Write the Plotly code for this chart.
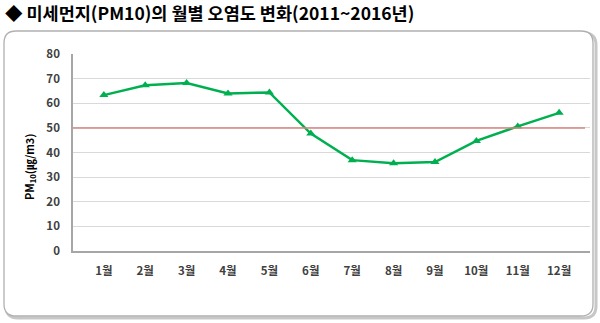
import plotly.graph_objects as go

# Monthly PM10 concentration (average 2011~2016)
months = ["1월", "2월", "3월", "4월", "5월", "6월", "7월", "8월", "9월", "10월", "11월", "12월"]
pm10 = [63.3, 67.3, 68.2, 64.0, 64.4, 47.7, 36.9, 35.6, 36.1, 44.7, 50.6, 56.1]
standard = 50
y_ticks = [0, 10, 20, 30, 40, 50, 60, 70, 80]

W, H = 600, 323
L, R, T, B = 73, 10, 54, 72
PW, PH = W - L - R, H - T - B


def px(x):
    return (x - L) / PW


def py(y):
    return (H - B - y) / PH


def rounded_rect(x0, y0, x1, y1, r):
    pts = [
        f"M {px(x0 + r)},{py(y0)}",
        f"L {px(x1 - r)},{py(y0)}",
        f"Q {px(x1)},{py(y0)} {px(x1)},{py(y0 + r)}",
        f"L {px(x1)},{py(y1 - r)}",
        f"Q {px(x1)},{py(y1)} {px(x1 - r)},{py(y1)}",
        f"L {px(x0 + r)},{py(y1)}",
        f"Q {px(x0)},{py(y1)} {px(x0)},{py(y1 - r)}",
        f"L {px(x0)},{py(y0 + r)}",
        f"Q {px(x0)},{py(y0)} {px(x0 + r)},{py(y0)}",
        "Z",
    ]
    return " ".join(pts)


fig = go.Figure()

fig.add_trace(go.Scatter(
    x=months, y=pm10, mode="lines+markers",
    line=dict(color="#00b050", width=2.5),
    marker=dict(symbol="triangle-up", size=8, color="#00b050"),
    cliponaxis=False, showlegend=False, hoverinfo="x+y",
))

shapes = [
    # card shadow and border
    dict(type="path", xref="paper", yref="paper", layer="below",
         path=rounded_rect(6, 33, 596, 318, 12),
         line=dict(color="rgba(0,0,0,0.22)", width=3)),
    dict(type="path", xref="paper", yref="paper", layer="below",
         path=rounded_rect(4, 31, 593, 316, 12),
         line=dict(color="#b0b0b0", width=1.3), fillcolor="white"),
    # environmental standard line
    dict(type="line", xref="paper", yref="y", x0=0, x1=px(585),
         y0=standard, y1=standard,
         line=dict(color="#d9837f", width=1.5)),
]

tick_font = dict(size=11.5, color="#404040", family="Noto Sans CJK KR", weight="bold")

fig.update_layout(
    width=W, height=H,
    margin=dict(l=L, r=R, t=T, b=B),
    paper_bgcolor="white", plot_bgcolor="rgba(0,0,0,0)",
    font=dict(family="Noto Sans CJK KR", color="#404040"),
    shapes=shapes,
    annotations=[
        dict(text="<b>◆ 미세먼지(PM10)의 월별 오염도 변화(2011~2016년)</b>",
             xref="paper", yref="paper", x=px(3), y=py(13),
             xanchor="left", yanchor="middle", showarrow=False,
             font=dict(size=17.5, color="#000000", family="Noto Sans CJK KR"),
             ),
        dict(text="<b>PM<sub>10</sub>(㎍/m3)</b>",
             xref="paper", yref="paper", x=px(29), y=py(167),
             xanchor="center", yanchor="middle", showarrow=False,
             textangle=-90,
             font=dict(size=11, color="#000000", family="Noto Sans CJK KR")),
    ],
    xaxis=dict(
        type="category", showgrid=False, showline=True,
        linecolor="#a6a6a6", linewidth=1.5, ticks="",
        tickfont=tick_font,
        ticklabelstandoff=8, fixedrange=True,
    ),
    yaxis=dict(
        range=[0, 80], tickvals=y_ticks, showgrid=True,
        gridcolor="#d9d9d9", gridwidth=1.2, showline=True,
        linecolor="#a6a6a6", linewidth=1.5, zeroline=False, ticks="",
        tickfont=tick_font,
        ticklabelstandoff=9, fixedrange=True,
    ),
)

fig.write_html("out.html")
